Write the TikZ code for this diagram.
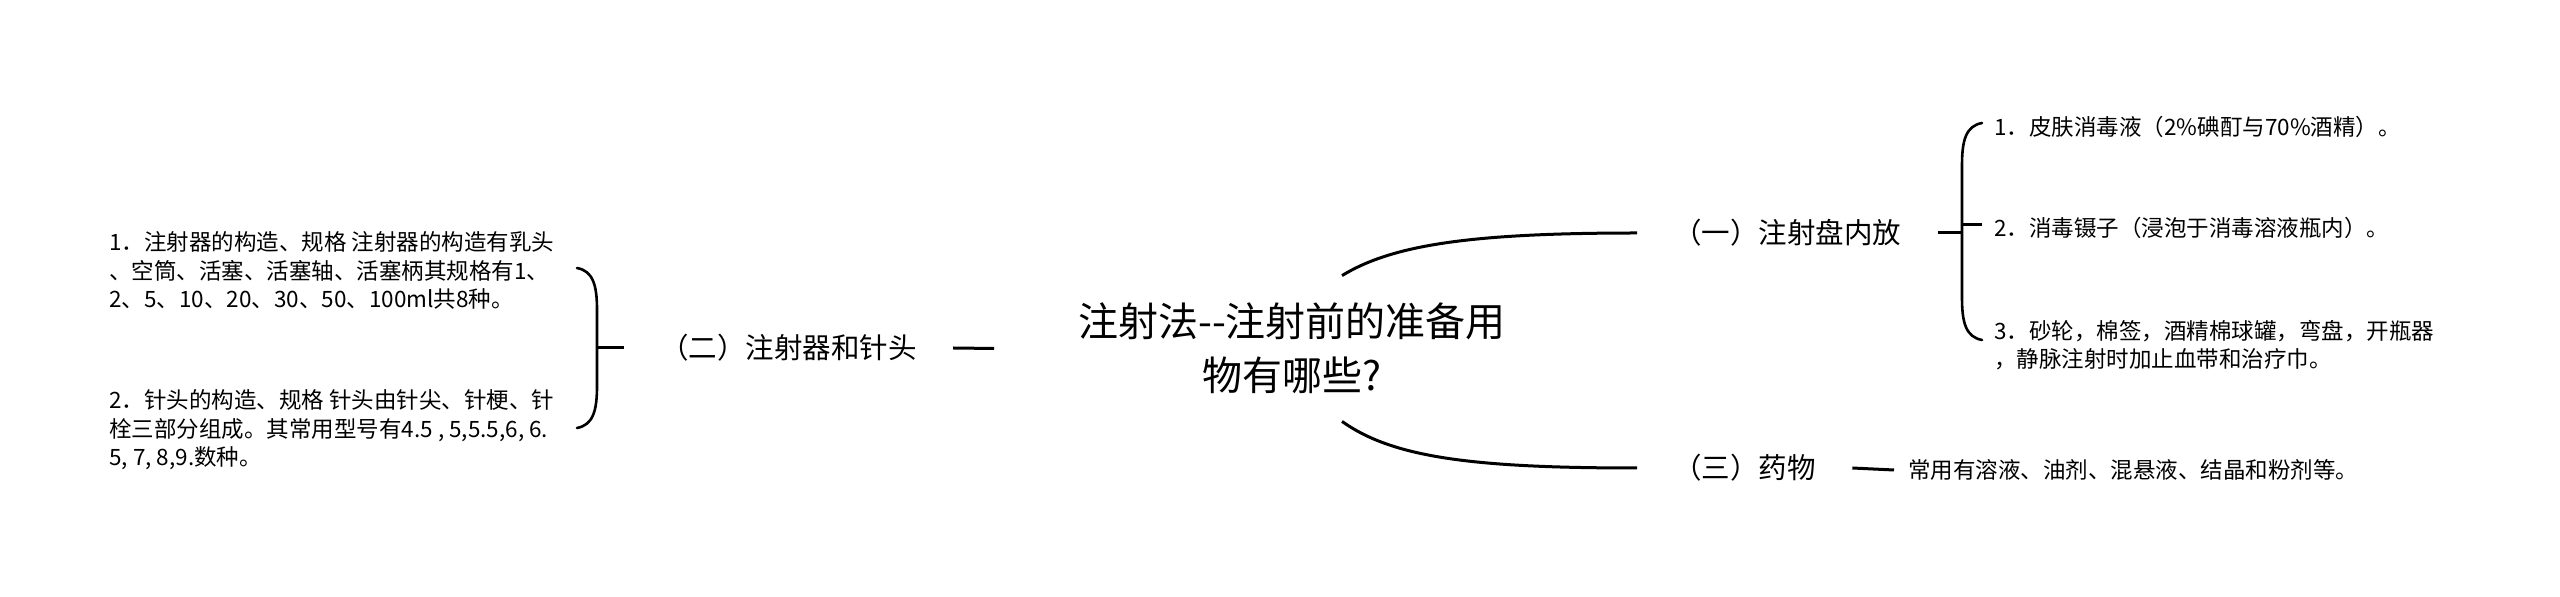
\documentclass[tikz,border=0pt]{standalone}
\usepackage{fontspec}
\setmainfont{Noto Sans CJK SC}
\usetikzlibrary{calc}
\begin{document}
\begin{tikzpicture}[x=0.5pt,y=-0.5pt,
  conn/.style={line width=1.5pt, black},
  bracestyle/.style={line width=1.3pt, black, line cap=round},
  root/.style={font=\fontsize{20pt}{27pt}\selectfont, align=center, minimum width=297.5pt, minimum height=72.5pt, inner sep=0pt},
  topic/.style={font=\fontsize{14.25pt}{17pt}\selectfont, inner xsep=18pt, inner ysep=4pt},
  leaf/.style={font=\fontsize{11.25pt}{14.25pt}\selectfont, align=left, inner sep=0pt},
]
\useasboundingbox (0,0) rectangle (2560,597);

% root
\node[root] (c) at (1292,348.5) {注射法-{}-注射前的准备用\\物有哪些?};

% topics
\node[topic, anchor=west] (n1) at (1637,233) {（一）注射盘内放};
\node[topic, anchor=west] (n3) at (1637,468) {（三）药物};
\node[topic, anchor=east] (n2) at (953,348) {（二）注射器和针头};

% right leaves
\node[leaf, anchor=west] (i1) at (1994,127) {1．皮肤消毒液（2\%碘酊与70\%酒精）。};
\node[leaf, anchor=west] (i2) at (1994,228) {2．消毒镊子（浸泡于消毒溶液瓶内）。};
\node[leaf, anchor=west] (i3) at (1994,345) {3．砂轮，棉签，酒精棉球罐，弯盘，开瓶器\\，静脉注射时加止血带和治疗巾。};
\node[leaf, anchor=west, inner xsep=7pt] (i4) at (1894,470) {常用有溶液、油剂、混悬液、结晶和粉剂等。};

% left leaves
\node[leaf, anchor=west] (l1) at (109,270.5) {1．注射器的构造、规格 注射器的构造有乳头\\、空筒、活塞、活塞轴、活塞柄其规格有1、\\2、5、10、20、30、50、100ml共8种。};
\node[leaf, anchor=west] (l2) at (109,430) {2．针头的构造、规格 针头由针尖、针梗、针\\栓三部分组成。其常用型号有4.5 , 5,5.5,6, 6.\\5, 7, 8,9.数种。};

% root connectors
\draw[conn] ([xshift=25pt]c.north) .. controls (1392,245) and (1470,233) .. (n1.west);
\draw[conn] ([xshift=25pt]c.south) .. controls (1392,457) and (1470,468) .. (n3.west);
\draw[conn] (c.west) -- (n2.east);
\draw[conn] (n3.east) -- (i4.west);

% right brace
\coordinate (rb) at (1962,233);
\draw[conn] (n1.east) -- (rb);
\draw[bracestyle] (1982,123) .. controls (1966,126) and (1962,140) .. (1962,165) -- (1962,298) .. controls (1962,323) and (1966,337) .. (1982,340);
\draw[conn] (1962,225) -- (1982,225);

% left brace
\coordinate (lb) at (597,348);
\draw[conn] (n2.west) -- (lb);
\draw[bracestyle] (577,268) .. controls (593,271) and (597,285) .. (597,310) -- (597,386) .. controls (597,411) and (593,425) .. (577,428);
\end{tikzpicture}
\end{document}
